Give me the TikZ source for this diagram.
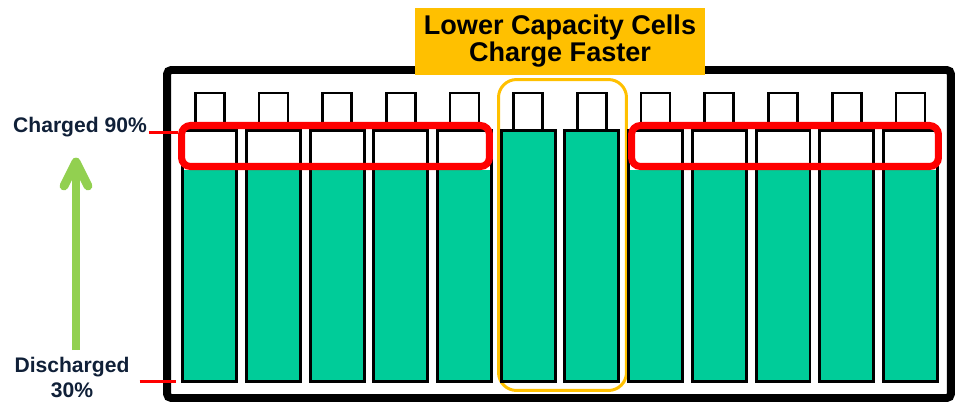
\documentclass[tikz,border=0pt]{standalone}
\usepackage{fontspec}
\setmainfont{Liberation Sans}
\usetikzlibrary{
    positioning
}
\definecolor{ink}{RGB}{16,32,56}
\definecolor{cellfill}{RGB}{0,204,153}
\definecolor{gold}{RGB}{255,192,0}
\definecolor{alert}{RGB}{255,0,0}
\definecolor{risegreen}{RGB}{146,208,80}
\tikzset{
    pack/.style={
        rectangle,
        draw=black,
        line width=4.5pt,
        rounded corners=0.08cm,
        minimum width=15.68cm,
        minimum height=6.56cm
    },
    cell/.style={
        rectangle,
        draw=black,
        line width=1.7pt,
        minimum width=1.08cm,
        minimum height=5.04cm,
        inner sep=0pt,
        outer sep=0pt
    },
    terminal/.style={
        rectangle,
        draw=black,
        line width=1.5pt,
        fill=white,
        minimum width=0.58cm,
        minimum height=0.74cm,
        inner sep=0pt,
        outer sep=0pt
    },
    band/.style={
        rectangle,
        draw=alert,
        line width=4pt,
        rounded corners=0.18cm,
        minimum height=0.82cm,
        inner sep=0pt
    },
    group/.style={
        rectangle,
        draw=gold,
        line width=1.7pt,
        rounded corners=0.36cm,
        minimum width=2.56cm,
        minimum height=6.22cm
    },
    title/.style={
        rectangle,
        fill=gold,
        minimum width=5.8cm,
        minimum height=1.34cm,
        inner sep=2pt,
        align=center,
        font=\bfseries\fontsize{15.4}{15.4}\selectfont,
        text=black
    },
    level/.style={
        font=\bfseries\fontsize{12}{13.7}\selectfont,
        text=ink,
        align=center,
        inner sep=1pt
    },
    marker/.style={
        draw=alert,
        line width=1.7pt
    },
    rise/.style={
        draw=risegreen,
        line width=5pt
    }
}

\begin{document}
\begin{tikzpicture}[x=0.02cm, y=-0.02cm]
\useasboundingbox (0,0) rectangle (958,414);

% Battery pack
\node[pack] (pack) at (559,234) {};
\node[group] (fastpair) at (562.5,235) {};

% Cells
\foreach \i in {1,...,12} {
    \pgfmathsetmacro{\cx}{146+63.7*\i}
    \pgfmathsetmacro{\lvl}{(\i==6 || \i==7) ? 130 : 170}
    \fill[cellfill] (\cx-27,\lvl) rectangle (\cx+27,382);
    \node[cell] (cell\i) at (\cx,256) {};
    \node[terminal, above=0pt of cell\i] (post\i) {};
}

% Cells still at 90%
\node[band, minimum width=6.16cm] (fullleft) at (335.5,146) {};
\node[band, minimum width=6.14cm] (fullright) at (785,146) {};

% Levels
\node[level, anchor=base] (charged) at (80,132) {Charged 90\%};
\node[level, anchor=base] (discharged) at (72,397) {Discharged\\30\%};
\draw[marker] (charged.base east) -- (charged.base east -| fullleft.west);
\draw[marker] ([xshift=0.16cm]discharged.east |- cell1.south) -- ([xshift=-0.14cm]cell1.south west);

% Charging arrow
\coordinate (low) at (76,350);
\coordinate (high) at (76,162);
\draw[rise] (low) -- (high);
\draw[rise, line cap=round, line join=round] ([shift={(-12,24)}]high) -- (high) -- ([shift={(12,24)}]high);

% Title
\node[title] (headline) at (560,41) {Lower Capacity Cells\\Charge Faster};

\end{tikzpicture}
\end{document}
